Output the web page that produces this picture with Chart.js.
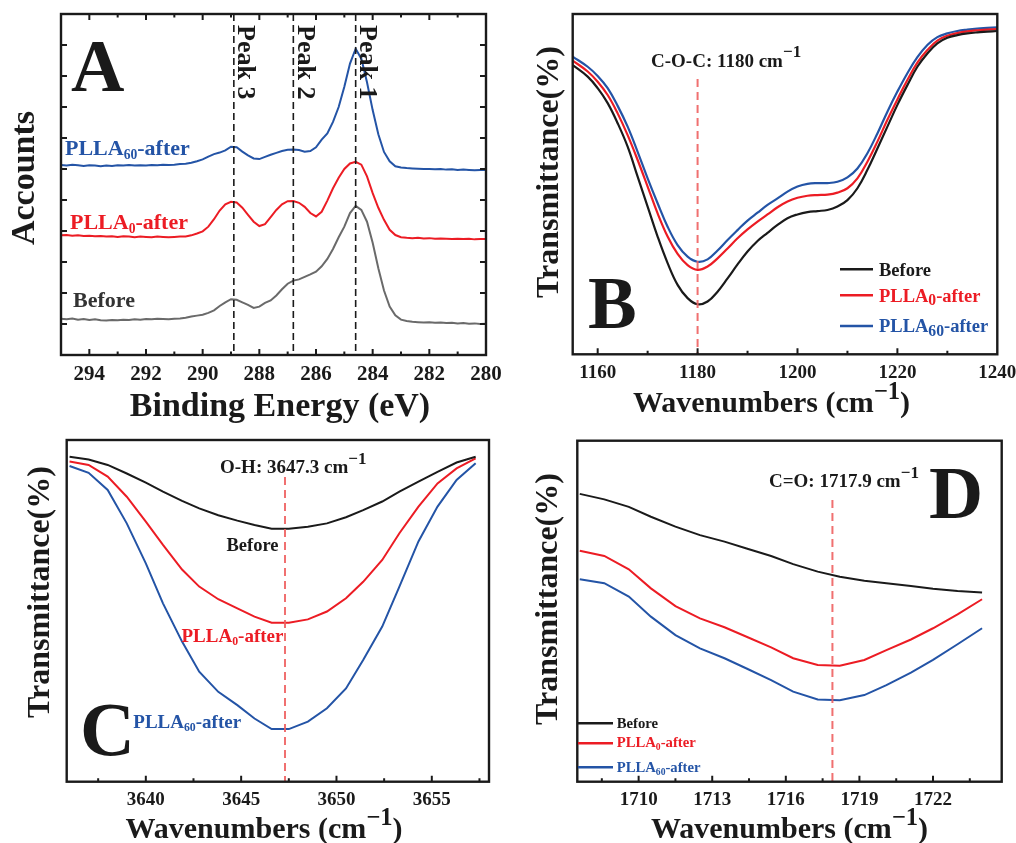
<!DOCTYPE html>
<html>
<head>
<meta charset="utf-8">
<script src="https://cdn.jsdelivr.net/npm/chart.js@4.4.1/dist/chart.umd.min.js"></script>
<style>
  html, body { margin: 0; padding: 0; background: #fff; }
  #wrap { position: relative; width: 1016px; height: 843px; overflow: hidden; background: #fff; }
  #wrap canvas { position: absolute; }
</style>
</head>
<body>
<div id="wrap">
  <canvas id="cA" width="508" height="430" style="left:0;top:0"></canvas>
  <canvas id="cB" width="508" height="430" style="left:508px;top:0"></canvas>
  <canvas id="cC" width="508" height="413" style="left:0;top:430px"></canvas>
  <canvas id="cD" width="508" height="413" style="left:508px;top:430px"></canvas>
</div>
<script>
// ---------- (A) XPS C1s spectra ----------
const xpsEnergy = [295.0,294.8,294.6,294.4,294.2,294.0,293.8,293.6,293.4,293.2,293.0,292.8,292.6,292.4,292.2,292.0,291.8,291.6,291.4,291.2,291.0,290.8,290.6,290.4,290.2,290.0,289.8,289.6,289.4,289.2,289.0,288.8,288.6,288.4,288.2,288.0,287.8,287.6,287.4,287.2,287.0,286.8,286.6,286.4,286.2,286.0,285.8,285.6,285.4,285.2,285.0,284.8,284.6,284.4,284.2,284.0,283.8,283.6,283.4,283.2,283.0,282.8,282.6,282.4,282.2,282.0,281.8,281.6,281.4,281.2,281.0,280.8,280.6,280.4,280.2,280.0];
const xpsBefore = [1.17,1.15,1.18,1.14,1.16,1.13,1.15,1.12,1.11,1.13,1.12,1.14,1.13,1.15,1.14,1.16,1.15,1.17,1.16,1.15,1.17,1.18,1.20,1.24,1.27,1.30,1.36,1.44,1.58,1.70,1.80,1.78,1.70,1.62,1.52,1.56,1.68,1.76,1.92,2.12,2.30,2.40,2.44,2.52,2.60,2.69,2.86,3.10,3.42,3.80,4.14,4.58,4.81,4.68,4.30,3.62,2.80,2.08,1.56,1.28,1.14,1.10,1.07,1.06,1.05,1.06,1.04,1.05,1.03,1.04,1.02,1.03,1.01,1.02,1.00,1.01];
const xpsPLLA0 = [3.86,3.87,3.85,3.86,3.84,3.85,3.83,3.84,3.82,3.83,3.81,3.83,3.82,3.80,3.82,3.81,3.80,3.82,3.81,3.80,3.81,3.82,3.82,3.86,3.92,3.99,4.14,4.38,4.66,4.86,4.94,4.92,4.75,4.52,4.30,4.16,4.22,4.45,4.68,4.86,4.96,4.97,4.91,4.78,4.58,4.47,4.62,4.98,5.38,5.72,6.00,6.18,6.23,6.14,5.76,5.22,4.75,4.36,4.04,3.87,3.80,3.78,3.77,3.78,3.76,3.77,3.75,3.76,3.75,3.74,3.75,3.74,3.75,3.73,3.74,3.74];
const xpsPLLA60 = [6.13,6.11,6.14,6.12,6.10,6.12,6.11,6.09,6.11,6.10,6.12,6.11,6.13,6.11,6.12,6.11,6.13,6.12,6.14,6.13,6.14,6.16,6.17,6.20,6.25,6.31,6.40,6.48,6.53,6.60,6.72,6.70,6.56,6.44,6.34,6.32,6.39,6.46,6.52,6.58,6.62,6.63,6.61,6.56,6.58,6.70,6.95,7.15,7.52,8.00,8.65,9.40,9.88,9.56,8.80,7.90,7.12,6.55,6.25,6.09,6.05,6.03,6.02,6.01,6.00,6.00,5.99,6.00,5.98,5.99,5.97,5.98,5.97,5.96,5.97,5.97];
const xpsPeaks = [288.9, 286.8, 284.6];
const xpsPeakNames = ['Peak 3', 'Peak 2', 'Peak 1'];

// ---------- (B) C-O-C band ----------
const cocWave = [1155,1158,1160,1162,1164,1166,1168,1170,1172,1174,1176,1178,1180,1182,1184,1186,1188,1190,1192,1194,1196,1198,1200,1202,1204,1206,1208,1210,1212,1214,1216,1218,1220,1222,1224,1226,1228,1230,1232,1234,1236,1238,1240];
const cocBefore = [85.0,81.6,78.2,73.8,67.9,61.0,52.2,43.4,34.6,26.8,20.4,16.5,14.7,15.5,18.4,22.3,26.4,30.2,33.3,35.7,38.0,40.0,41.1,41.8,42.1,42.4,43.4,45.3,48.8,54.2,60.5,66.9,73.3,79.1,84.5,88.4,91.4,93.0,93.8,94.3,94.6,94.8,95.0];
const cocPLLA0 = [86.3,83.1,80.1,76.2,70.8,64.4,57.1,49.3,41.4,34.6,29.5,26.2,24.8,25.8,28.2,31.1,34.1,36.7,39.0,41.1,43.2,44.9,46.0,46.6,46.8,46.9,47.5,48.8,51.7,56.6,62.5,68.9,74.9,80.6,85.7,89.4,92.2,93.6,94.4,94.9,95.2,95.4,95.6];
const cocPLLA60 = [87.5,84.5,81.8,78.2,73.0,66.9,59.5,51.7,44.4,37.5,32.1,28.7,27.2,27.9,30.5,33.6,36.5,39.3,41.6,43.9,45.8,47.8,49.3,50.1,50.3,50.3,50.7,52.0,54.6,59.1,64.9,71.3,77.2,82.6,87.3,90.9,93.2,94.3,95.0,95.4,95.7,95.9,96.1];
const cocBand = 1180;

// ---------- (C) O-H band ----------
const ohWave = [3636.0,3637.0,3638.0,3639.0,3640.0,3640.9,3641.9,3642.8,3643.8,3644.8,3645.7,3646.6,3647.5,3648.5,3649.5,3650.5,3651.4,3652.4,3653.3,3654.3,3655.3,3656.3,3657.3];
const ohBefore = [95.1,94.3,92.7,90.2,87.5,84.9,82.2,80.0,78.0,76.4,75.1,74.0,74.0,74.6,75.6,77.4,79.5,82.0,84.9,87.8,90.7,93.4,95.1];
const ohPLLA0 = [93.7,92.7,89.3,83.4,76.1,69.3,62.1,57.1,53.4,50.7,48.3,46.5,46.5,47.5,49.8,53.7,58.5,64.9,72.7,80.5,87.3,91.7,94.6];
const ohPLLA60 = [92.4,90.4,85.4,75.6,63.9,52.2,41.0,32.2,26.3,22.4,18.5,15.4,15.4,17.6,21.5,27.3,35.6,45.4,57.1,70.3,80.5,88.3,93.2];
const ohBand = 3647.3;

// ---------- (D) C=O band ----------
const coWave = [1707.6,1708.6,1709.6,1710.5,1711.5,1712.5,1713.5,1714.4,1715.4,1716.3,1717.3,1718.2,1719.2,1720.1,1721.1,1722.0,1723.0,1724.0];
const coBefore = [84.4,82.8,80.6,77.7,74.8,72.3,70.4,68.4,66.2,63.8,61.6,60.1,58.9,58.2,57.4,56.6,55.9,55.5];
const coPLLA0 = [67.7,66.2,62.3,56.7,51.5,47.9,45.3,42.5,39.4,36.2,34.2,34.0,35.7,38.6,41.7,45.0,49.1,53.5];
const coPLLA60 = [59.4,58.2,54.3,48.4,43.0,39.1,36.2,33.2,29.8,26.4,24.1,23.9,25.4,28.3,32.0,35.7,40.3,45.0];
const coBand = 1717.9;

const seriesNames = ['Before', 'PLLA_{0}-after', 'PLLA_{60}-after'];

// ---------- styling ----------
const SERIF = '"Liberation Serif", "Times New Roman", Times, serif';
const INK = '#1a1a1a';
const RED = '#ec1c24';
const BLUE = '#2454a6';
const GRAY = '#6a6a6a';
const DASH_RED = 'rgba(238, 96, 96, 0.9)';

function pts(xs, ys) { return xs.map((x, i) => ({ x: x, y: ys[i] })); }

// Split "PLLA_{60}-after" / "cm^{−1}" into plain, subscript and superscript runs
function parseRich(str) {
  const out = [];
  const re = /(_\{[^}]*\}|\^\{[^}]*\})/g;
  let last = 0, m;
  while ((m = re.exec(str)) !== null) {
    if (m.index > last) out.push({ t: str.slice(last, m.index) });
    const body = m[0].slice(2, -1);
    out.push(m[0][0] === '_' ? { t: body, sub: true } : { t: body, sup: true });
    last = re.lastIndex;
  }
  if (last < str.length) out.push({ t: str.slice(last) });
  return out;
}

function runFont(run, o) {
  let size = o.size;
  if (run.sub) size *= (o.subScale || 0.62);
  if (run.sup) size *= (o.supScale || 0.8);
  return (o.weight || 'bold') + ' ' + size.toFixed(1) + 'px ' + SERIF;
}

function drawRich(ctx, str, x, y, o) {
  const runs = parseRich(str);
  let total = 0;
  runs.forEach(r => { ctx.font = runFont(r, o); total += ctx.measureText(r.t).width; });
  let cx = x;
  if (o.align === 'center') cx = x - total / 2;
  else if (o.align === 'right') cx = x - total;
  ctx.fillStyle = o.color || INK;
  ctx.textAlign = 'left';
  ctx.textBaseline = 'alphabetic';
  runs.forEach(r => {
    ctx.font = runFont(r, o);
    let dy = 0;
    if (r.sub) dy = o.size * (o.subDrop || 0.2);
    if (r.sup) dy = -o.size * (o.supRise || 0.4);
    ctx.fillText(r.t, cx, y + dy);
    cx += ctx.measureText(r.t).width;
  });
  return total;
}

// Frame, inward ticks, tick labels, guide lines, titles and annotations
const panelDecor = {
  id: 'panelDecor',
  afterDatasetsDraw(chart, args, o) {
    const ctx = chart.ctx, a = chart.chartArea;
    const xs = chart.scales.x, ys = chart.scales.y;
    ctx.save();

    // dashed guide lines at band / peak positions
    (o.guides || []).forEach(g => {
      const px = xs.getPixelForValue(g.value);
      ctx.beginPath();
      ctx.setLineDash(g.dash);
      ctx.strokeStyle = g.color;
      ctx.lineWidth = g.width;
      ctx.moveTo(px, g.top != null ? g.top : a.top);
      ctx.lineTo(px, a.bottom);
      ctx.stroke();
    });
    ctx.setLineDash([]);

    // frame
    ctx.strokeStyle = INK;
    ctx.lineWidth = 2.4;
    ctx.strokeRect(a.left, a.top, a.right - a.left, a.bottom - a.top);

    // x ticks: majors from the scale, minors half way between
    const step = o.xStep;
    const majors = xs.ticks.map(t => t.value);
    const minors = [];
    majors.forEach(v => minors.push(v - step / 2));
    if (majors.length) minors.push(majors[majors.length - 1] + step / 2);
    const lo = Math.min(xs.min, xs.max), hi = Math.max(xs.min, xs.max);
    ctx.lineWidth = 2;
    ctx.beginPath();
    const xTick = (v, len) => {
      if (v <= lo || v >= hi) return;
      const px = xs.getPixelForValue(v);
      ctx.moveTo(px, a.bottom); ctx.lineTo(px, a.bottom - len);
      if (o.mirror) { ctx.moveTo(px, a.top); ctx.lineTo(px, a.top + len); }
    };
    majors.forEach(v => xTick(v, 6));
    minors.forEach(v => xTick(v, 3.5));
    if (o.yTicks) {
      ys.ticks.forEach(t => {
        if (t.value <= ys.min || t.value >= ys.max) return;
        const py = ys.getPixelForValue(t.value);
        ctx.moveTo(a.left, py); ctx.lineTo(a.left + 6, py);
        ctx.moveTo(a.right, py); ctx.lineTo(a.right - 6, py);
      });
    }
    ctx.stroke();

    // tick labels
    ctx.fillStyle = INK;
    ctx.font = 'bold ' + o.tickSize + 'px ' + SERIF;
    ctx.textAlign = 'center';
    ctx.textBaseline = 'alphabetic';
    majors.forEach(v => {
      if (v < lo || v > hi) return;
      ctx.fillText(String(v), xs.getPixelForValue(v), o.tickBaseline);
    });

    // axis titles
    const xt = o.xTitle;
    drawRich(ctx, xt.text, xt.x, xt.y, { size: xt.size, align: 'center', supScale: 0.82, supRise: 0.42 });
    const yt = o.yTitle;
    ctx.save();
    ctx.translate(yt.x, yt.y);
    ctx.rotate(-Math.PI / 2);
    ctx.font = 'bold ' + yt.size + 'px ' + SERIF;
    ctx.fillStyle = INK;
    ctx.textAlign = 'center';
    ctx.textBaseline = 'middle';
    ctx.fillText(yt.text, 0, 0);
    ctx.restore();

    // vertical peak captions, reading downwards
    (o.vLabels || []).forEach(l => {
      ctx.save();
      ctx.translate(xs.getPixelForValue(l.value) + l.dx, l.y);
      ctx.rotate(Math.PI / 2);
      ctx.font = 'bold ' + l.size + 'px ' + SERIF;
      ctx.fillStyle = INK;
      ctx.textAlign = 'left';
      ctx.textBaseline = 'alphabetic';
      ctx.fillText(l.text, 0, 0);
      ctx.restore();
    });

    // free text: panel letter, band captions, curve labels
    (o.texts || []).forEach(t => drawRich(ctx, t.text, t.x, t.y, t));

    // legend with line samples
    if (o.legend) {
      const L = o.legend;
      chart.data.datasets.forEach((ds, i) => {
        ctx.beginPath();
        ctx.strokeStyle = ds.borderColor;
        ctx.lineWidth = 2.4;
        ctx.moveTo(L.x0, L.lineY[i]); ctx.lineTo(L.x1, L.lineY[i]);
        ctx.stroke();
        drawRich(ctx, ds.label, L.textX, L.textY[i], { size: L.size, color: ds.borderColor, subScale: L.subScale, subDrop: L.subDrop });
      });
    }
    ctx.restore();
  }
};

function makeChart(id, cfg) {
  const datasets = cfg.series.map((s, i) => ({
    label: seriesNames[i],
    data: pts(cfg.x, s.values),
    borderColor: s.color,
    borderWidth: cfg.lineWidth,
    pointRadius: 0,
    tension: cfg.tension,
    fill: false
  }));
  return new Chart(document.getElementById(id), {
    type: 'line',
    data: { datasets: datasets },
    options: {
      responsive: false,
      animation: false,
      devicePixelRatio: 1,
      events: [],
      layout: { autoPadding: false, padding: cfg.padding },
      plugins: { legend: { display: false }, tooltip: { enabled: false }, panelDecor: cfg.decor },
      scales: {
        x: { type: 'linear', display: false, min: cfg.xMin, max: cfg.xMax, reverse: !!cfg.reverse,
             ticks: { stepSize: cfg.decor.xStep, includeBounds: false } },
        y: { type: 'linear', display: false, min: cfg.yMin, max: cfg.yMax,
             ticks: { stepSize: cfg.yStep, includeBounds: false } }
      }
    },
    plugins: [panelDecor]
  });
}

// (A)
makeChart('cA', {
  x: xpsEnergy, xMin: 280, xMax: 295, reverse: true, yMin: 0, yMax: 11, yStep: 1,
  lineWidth: 2, tension: 0,
  padding: { left: 61, right: 22, top: 14, bottom: 75 },
  series: [ { values: xpsBefore, color: GRAY }, { values: xpsPLLA0, color: RED }, { values: xpsPLLA60, color: BLUE } ],
  decor: {
    xStep: 2, mirror: true, yTicks: true, tickSize: 21, tickBaseline: 380,
    guides: xpsPeaks.map(v => ({ value: v, dash: [7, 4], color: INK, width: 1.6 })),
    vLabels: xpsPeaks.map((v, i) => ({ value: v, text: xpsPeakNames[i], dx: 4.5, y: 25, size: 26 })),
    xTitle: { text: 'Binding Energy (eV)', x: 280, y: 416, size: 34 },
    yTitle: { text: 'Accounts', x: 25, y: 178, size: 34 },
    texts: [
      { text: 'A', x: 71, y: 91, size: 74 },
      { text: 'PLLA_{60}-after', x: 65, y: 155, size: 22, color: BLUE },
      { text: 'PLLA_{0}-after', x: 70, y: 228.5, size: 22, color: RED },
      { text: 'Before', x: 73, y: 306.5, size: 22, color: '#333333' }
    ]
  }
});

// (B)
makeChart('cB', {
  x: cocWave, xMin: 1155, xMax: 1240, yMin: 0, yMax: 100, yStep: 20,
  lineWidth: 2.2, tension: 0.4,
  padding: { left: 64.7, right: 18.7, top: 14, bottom: 75.7 },
  series: [ { values: cocBefore, color: INK }, { values: cocPLLA0, color: RED }, { values: cocPLLA60, color: BLUE } ],
  decor: {
    xStep: 20, tickSize: 19, tickBaseline: 378,
    guides: [ { value: cocBand, dash: [8, 5], color: DASH_RED, width: 2, top: 79 } ],
    xTitle: { text: 'Wavenumbers (cm^{−1})', x: 263.5, y: 411.5, size: 30 },
    yTitle: { text: 'Transmittance(%)', x: 41.5, y: 172, size: 32 },
    texts: [
      { text: 'B', x: 80, y: 328, size: 73 },
      { text: 'C-O-C: ' + cocBand + ' cm^{−1}', x: 143, y: 66.5, size: 19, supScale: 0.9, supRise: 0.5 }
    ],
    legend: { x0: 332, x1: 365, lineY: [269.3, 295.3, 326], textX: 371, textY: [275.5, 301.5, 332], size: 18.5, subScale: 0.85, subDrop: 0.2 }
  }
});

// (C)
makeChart('cC', {
  x: ohWave, xMin: 3635.85, xMax: 3658.0, yMin: 0, yMax: 100, yStep: 20,
  lineWidth: 2, tension: 0,
  padding: { left: 66.7, right: 19, top: 10, bottom: 61.3 },
  series: [ { values: ohBefore, color: INK }, { values: ohPLLA0, color: RED }, { values: ohPLLA60, color: BLUE } ],
  decor: {
    xStep: 5, tickSize: 19, tickBaseline: 375,
    guides: [ { value: ohBand, dash: [8, 5], color: DASH_RED, width: 2, top: 47 } ],
    xTitle: { text: 'Wavenumbers (cm^{−1})', x: 264, y: 408, size: 30 },
    yTitle: { text: 'Transmittance(%)', x: 40.5, y: 162, size: 32 },
    texts: [
      { text: 'C', x: 80, y: 325, size: 76 },
      { text: 'O-H: ' + ohBand + ' cm^{−1}', x: 220, y: 43.3, size: 19, supScale: 0.9, supRise: 0.5 },
      { text: 'Before', x: 226.5, y: 120.5, size: 18.5, color: INK },
      { text: 'PLLA_{0}-after', x: 181.5, y: 211.5, size: 19, color: RED },
      { text: 'PLLA_{60}-after', x: 133.3, y: 297.5, size: 19, color: BLUE }
    ]
  }
});

// (D)
makeChart('cD', {
  x: coWave, xMin: 1707.5, xMax: 1724.8, yMin: 0, yMax: 100, yStep: 20,
  lineWidth: 2, tension: 0,
  padding: { left: 69.3, right: 14.3, top: 10.7, bottom: 61.3 },
  series: [ { values: coBefore, color: INK }, { values: coPLLA0, color: RED }, { values: coPLLA60, color: BLUE } ],
  decor: {
    xStep: 3, tickSize: 19, tickBaseline: 375,
    guides: [ { value: coBand, dash: [8, 5], color: DASH_RED, width: 2, top: 70 } ],
    xTitle: { text: 'Wavenumbers (cm^{−1})', x: 281.5, y: 408, size: 30 },
    yTitle: { text: 'Transmittance(%)', x: 41, y: 169, size: 32 },
    texts: [
      { text: 'D', x: 421, y: 88.3, size: 75 },
      { text: 'C=O: ' + coBand + ' cm^{−1}', x: 261, y: 57.3, size: 19, supScale: 0.9, supRise: 0.5 }
    ],
    legend: { x0: 70, x1: 105, lineY: [293.3, 313.3, 337.3], textX: 108.7, textY: [298.3, 316.7, 341.7], size: 14.7, subScale: 0.65, subDrop: 0.22 }
  }
});
</script>
</body>
</html>
